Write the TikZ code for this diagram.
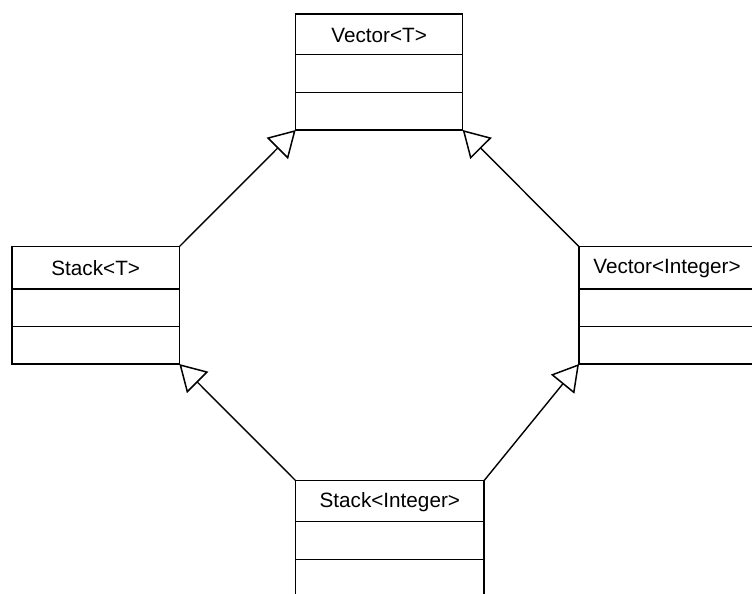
\documentclass[tikz,border=0pt]{standalone}
\usepackage{fontspec}
\setmainfont{Liberation Sans}
\usetikzlibrary{arrows.meta}
\begin{document}
\begin{tikzpicture}[x=1pt,y=-1pt,
  classbox/.style={draw, line width=1.5pt, inner sep=0pt, outer sep=0pt,
    anchor=north west, fill=white},
  classname/.style={inner sep=0pt, font=\fontsize{20.7pt}{24pt}\selectfont},
  divider/.style={line width=1.5pt},
  inherit/.style={line width=1.4pt,
    -{Triangle[open, length=26pt, width=30pt, line width=1.5pt]}}]
\useasboundingbox (0,0) rectangle (752,594);
\clip (0,0) rectangle (752,594);

% Vector<T>
\node[classbox, minimum width=167pt, minimum height=116pt] (vt) at (295.7,14) {};
\node[classname] (vtname) at (379.2,35) {Vector<T>};
\draw[divider] (vt.west |- 0,54.3) -- (vt.east |- 0,54.3);
\draw[divider] (vt.west |- 0,92.3) -- (vt.east |- 0,92.3);

% Stack<T>
\node[classbox, minimum width=167.3pt, minimum height=117.3pt] (st) at (12,246.7) {};
\node[classname] (stname) at (95.7,268.5) {Stack<T>};
\draw[divider] (st.west |- 0,289) -- (st.east |- 0,289);
\draw[divider] (st.west |- 0,326.7) -- (st.east |- 0,326.7);

% Vector<Integer>
\node[classbox, minimum width=176pt, minimum height=117.3pt] (vi) at (579,246.7) {};
\node[classname] (viname) at (667,268.5) {Vector<Integer>};
\draw[divider] (vi.west |- 0,289) -- (vi.east |- 0,289);
\draw[divider] (vi.west |- 0,326.7) -- (vi.east |- 0,326.7);

% Stack<Integer>
\node[classbox, minimum width=188.3pt, minimum height=140pt] (si) at (295.7,480.7) {};
\node[classname] (siname) at (389.8,502) {Stack<Integer>};
\draw[divider] (si.west |- 0,521.7) -- (si.east |- 0,521.7);
\draw[divider] (si.west |- 0,559.3) -- (si.east |- 0,559.3);

% generalisation arrows
\draw[inherit] (st.north east) -- (vt.south west);
\draw[inherit] (vi.north west) -- (vt.south east);
\draw[inherit] (si.north west) -- (st.south east);
\draw[inherit] (si.north east) -- (vi.south west);
\end{tikzpicture}
\end{document}
